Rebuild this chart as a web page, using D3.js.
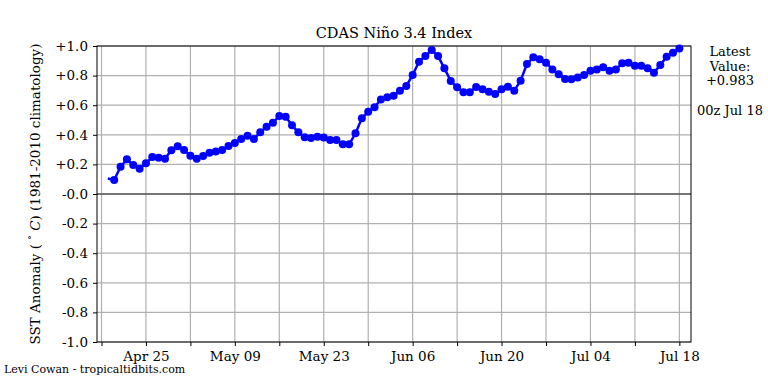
<!DOCTYPE html>
<html><head><meta charset="utf-8">
<script src="https://cdn.jsdelivr.net/npm/d3@7"></script>
<style>
html,body{margin:0;padding:0;background:#fff;}
svg{display:block;}
text{font-family:"DejaVu Serif",serif;fill:#000;}
</style></head>
<body>
<svg id="chart" width="768" height="384"></svg>
<script>
// ---- data ----
const startDate = "2023-04-19"; // first daily value (00z)
const values = [
  0.105, 0.095, 0.184, 0.234, 0.196, 0.171, 0.207, 0.250, 0.245, 0.239,
  0.295, 0.322, 0.297, 0.258, 0.239, 0.257, 0.279, 0.288, 0.297, 0.324,
  0.345, 0.372, 0.394, 0.372, 0.417, 0.455, 0.482, 0.527, 0.522, 0.464,
  0.417, 0.383, 0.378, 0.387, 0.381, 0.365, 0.365, 0.336, 0.336, 0.410,
  0.511, 0.556, 0.586, 0.638, 0.653, 0.664, 0.698, 0.730, 0.804, 0.894,
  0.932, 0.973, 0.932, 0.849, 0.764, 0.721, 0.687, 0.687, 0.723, 0.707,
  0.691, 0.676, 0.707, 0.725, 0.698, 0.766, 0.878, 0.924, 0.910, 0.887,
  0.842, 0.809, 0.777, 0.776, 0.788, 0.804, 0.833, 0.842, 0.856, 0.833,
  0.842, 0.883, 0.887, 0.867, 0.867, 0.849, 0.820, 0.872, 0.928, 0.955,
  0.983
];
const yTicks = [1.0, 0.8, 0.6, 0.4, 0.2, 0.0, -0.2, -0.4, -0.6, -0.8, -1.0];
const yTickLabels = ["+1.0","+0.8","+0.6","+0.4","+0.2","-0.0","-0.2","-0.4","-0.6","-0.8","-1.0"];
const xMinorTicks = ["2023-04-18","2023-05-02","2023-05-16","2023-05-30","2023-06-13","2023-06-27","2023-07-11"];
const xMajorTicks = ["2023-04-25","2023-05-09","2023-05-23","2023-06-06","2023-06-20","2023-07-04","2023-07-18"];
const xMajorLabels = ["Apr 25","May 09","May 23","Jun 06","Jun 20","Jul 04","Jul 18"];
const title = "CDAS Niño 3.4 Index";
const latestLines = ["Latest","Value:","+0.983"];
const latestTime = "00z Jul 18";
const credit = "Levi Cowan - tropicaltidbits.com";

// ---- setup ----
const parse = d3.utcParse("%Y-%m-%d");
const t0 = parse(startDate);
const series = values.map((v,i)=>({date: d3.utcDay.offset(t0,i), v}));

const L=97, R=691, T=46, B=342;
const x = d3.scaleUtc()
  .domain([new Date(Date.UTC(2023,3,17,7)), new Date(Date.UTC(2023,6,19,20))])
  .range([L,R]);
const y = d3.scaleLinear().domain([-1,1]).range([B,T]);

const svg = d3.select("#chart");

// grid
const allX = xMinorTicks.concat(xMajorTicks).map(parse);
svg.append("g").selectAll("line").data(allX).join("line")
  .attr("x1",d=>x(d)).attr("x2",d=>x(d)).attr("y1",T).attr("y2",B)
  .attr("stroke","#b0b0b0").attr("stroke-width",1.2);
svg.append("g").selectAll("line").data(yTicks).join("line")
  .attr("x1",L).attr("x2",R).attr("y1",d=>y(d)).attr("y2",d=>y(d))
  .attr("stroke","#b0b0b0").attr("stroke-width",1.2);

// zero line
svg.append("line").attr("x1",L).attr("x2",R).attr("y1",y(0)).attr("y2",y(0))
  .attr("stroke","#555").attr("stroke-width",1.5);

// y axis
const yAxis = d3.axisLeft(y).tickValues(yTicks)
  .tickFormat((d,i)=>yTickLabels[i]).tickSize(4).tickPadding(5);
const gy = svg.append("g").attr("transform",`translate(${L},0)`).call(yAxis);
gy.select(".domain").remove();
gy.selectAll("text").style("font-family","DejaVu Serif").style("font-size","13.5px").attr("fill","#000");
gy.selectAll("line").attr("stroke","#000");

// x axis
const xAxisMinor = d3.axisBottom(x).tickValues(xMinorTicks.map(parse)).tickSize(4).tickFormat("");
const gx1 = svg.append("g").attr("transform",`translate(0,${B})`).call(xAxisMinor);
gx1.select(".domain").remove();
const xAxisMajor = d3.axisBottom(x).tickValues(xMajorTicks.map(parse))
  .tickFormat((d,i)=>xMajorLabels[i]).tickSize(4).tickPadding(5);
const gx = svg.append("g").attr("transform",`translate(0,${B})`).call(xAxisMajor);
gx.select(".domain").remove();
gx.selectAll("text").style("font-family","DejaVu Serif").style("font-size","13.5px").attr("fill","#000");
gx.selectAll("line").attr("stroke","#000");

// frame
svg.append("rect").attr("x",L).attr("y",T).attr("width",R-L).attr("height",B-T)
  .attr("fill","none").attr("stroke","#000").attr("stroke-width",1);

// line + markers
const line = d3.line().x(d=>x(d.date)).y(d=>y(d.v));
svg.append("path").datum(series).attr("d",line)
  .attr("fill","none").attr("stroke","#0000ff").attr("stroke-width",2.5).attr("stroke-linejoin","round");
svg.append("g").selectAll("circle").data(series.slice(1)).join("circle")
  .attr("cx",d=>x(d.date)).attr("cy",d=>y(d.v)).attr("r",4).attr("fill","#0000ff");

// title
svg.append("text").attr("x",(L+R)/2).attr("y",T-8).attr("text-anchor","middle")
  .style("font-size","14.5px").text(title);

// y label
const yl = svg.append("text").attr("transform",`translate(40,${(T+B)/2}) rotate(-90)`)
  .attr("text-anchor","middle").style("font-size","13.5px");
yl.append("tspan").text("SST Anomaly ( ");
yl.append("tspan").attr("baseline-shift","super").style("font-size","9px").text("°");
yl.append("tspan").style("font-style","italic").text(" C");
yl.append("tspan").text(") (1981-2010 climatology)");

// latest text
const lt = svg.append("text").attr("text-anchor","middle").style("font-size","13px");
latestLines.forEach((s,i)=>lt.append("tspan").attr("x",730).attr("y",56+i*14.5).text(s));
svg.append("text").attr("x",730).attr("y",115).attr("text-anchor","middle")
  .style("font-size","13px").text(latestTime);

// credit
svg.append("text").attr("x",4).attr("y",373).style("font-size","11px").text(credit);
</script>
</body></html>
